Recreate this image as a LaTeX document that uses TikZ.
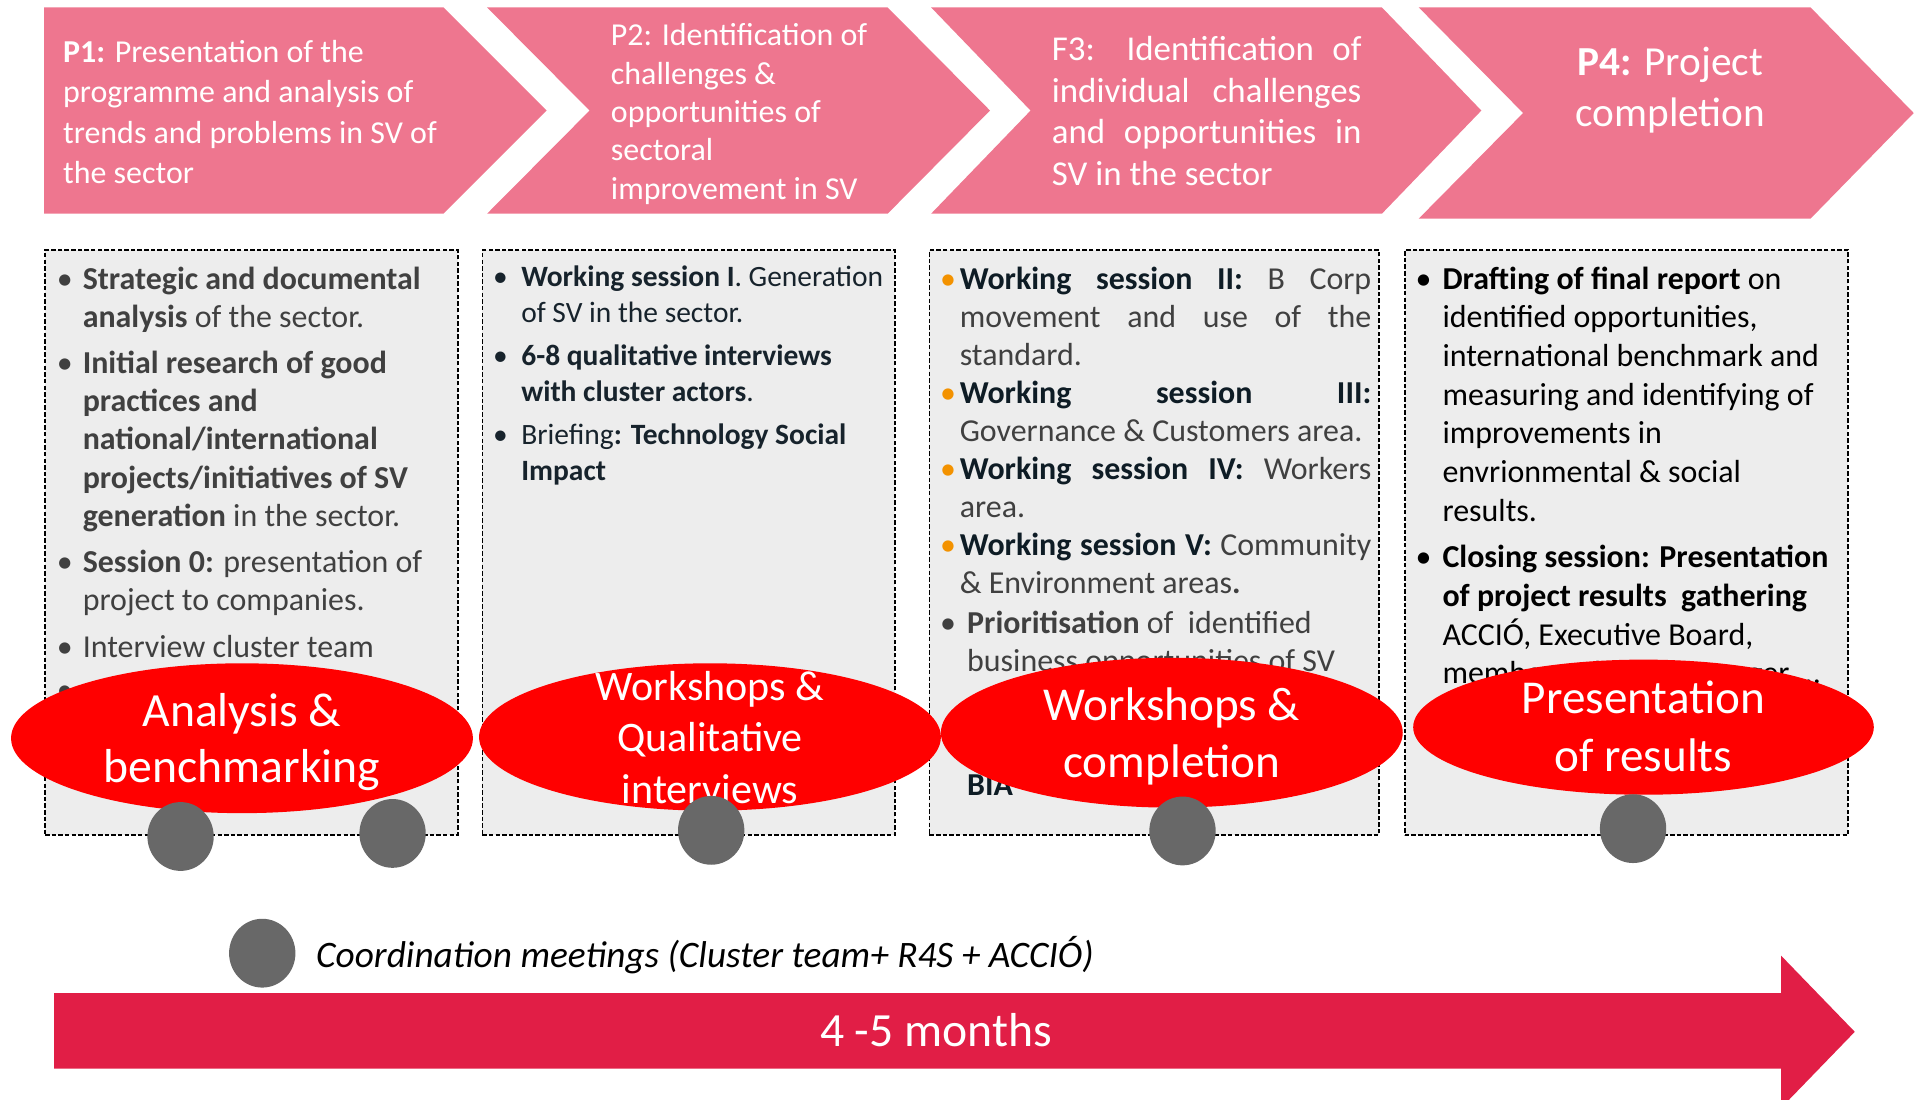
\documentclass[tikz,border=0pt]{standalone}
\usepackage{fontspec}
\setmainfont{Carlito}
\usetikzlibrary{shapes.geometric}
\definecolor{chev}{HTML}{EE768F}
\definecolor{boxfill}{HTML}{EDEDED}
\definecolor{redell}{HTML}{FF0000}
\definecolor{dotgray}{HTML}{686868}
\definecolor{crimson}{HTML}{E11E46}
\definecolor{orangeb}{HTML}{F39200}
\definecolor{txgray}{HTML}{404040}
\definecolor{txdark}{HTML}{0E1C25}
\definecolor{txnavy}{HTML}{17232C}
\newcommand\bitem[2]{\makebox[#1][l]{\textbullet}#2}
\newcommand\citem[2]{\hspace*{#1}#2}
\newcommand\oitem[2]{\makebox[#1][l]{\textcolor{orangeb}{\textbullet}}#2}
\newcommand\jline[2]{\makebox[#1][s]{#2}}
\tikzset{
  chevtext/.style={text=white, inner sep=0, anchor=north west, align=left, font=\fontsize{13}{16.3}\selectfont},
  boxst/.style={draw=black, dash pattern=on 1.8pt off 0.9pt, line width=0.7pt, fill=boxfill, inner sep=0, anchor=north west},
  boxtext/.style={inner sep=0, anchor=north west, align=left},
  bigell/.style={ellipse, fill=redell, inner sep=0, minimum width=188pt, minimum height=61pt},
  elltext/.style={text=white, inner sep=0, align=center},
  dot/.style={ellipse, fill=dotgray, inner sep=0, minimum width=27pt, minimum height=28pt},
}
\begin{document}
\begin{tikzpicture}[x=0.5pt,y=-0.5pt]
\useasboundingbox (0,0) rectangle (1568,895);

% top chevrons
\fill[chev] (36,6) -- (361,6) -- (445,90) -- (361,174) -- (36,174) -- cycle;
\fill[chev] (396.5,6) -- (722.6,6) -- (806,90) -- (722.6,174) -- (396.5,174) -- (480,90) -- cycle;
\fill[chev] (758,6) -- (1125,6) -- (1206,90) -- (1125,174) -- (758,174) -- (839,90) -- cycle;
\fill[chev] (1155,6) -- (1474,6) -- (1558,92) -- (1474,178) -- (1155,178) -- (1240,92) -- cycle;

\node[chevtext] (p1) at (51,28) {\strut\textbf{P1:} Presentation of the\\programme and analysis of\\trends and problems in SV of\\the sector};
\node[chevtext, font=\fontsize{13}{15.6}\selectfont] (p2) at (497,15) {\strut P2: Identification of\\challenges \&\\opportunities of\\sectoral\\improvement in SV};
\node[chevtext, font=\fontsize{14.2}{17}\selectfont] (p3) at (856,25) {\strut\jline{126pt}{F3: Identification of}\\\jline{126pt}{individual challenges}\\\jline{126pt}{and opportunities in}\\SV in the sector};
\node[chevtext, anchor=north, align=center, font=\fontsize{16.8}{20.5}\selectfont] (p4) at (1360,32.5) {\strut\textbf{P4:} Project\\completion};

% boxes
\node[boxst, minimum width=168pt, minimum height=238pt] (b1) at (36,203) {};
\node[boxst, minimum width=168pt, minimum height=238pt] (b2) at (392,203) {};
\node[boxst, minimum width=183pt, minimum height=238pt] (b3) at (756,203) {};
\node[boxst, minimum width=180.5pt, minimum height=238pt] (b4) at (1143,203) {};

\node[boxtext, text=txgray, font=\fontsize{13}{15.5}\selectfont] (t1) at (46,213.2) {\strut\bitem{10.5pt}{\textbf{Strategic and documental}}\\
\citem{10.5pt}{\textbf{analysis} of the sector.}\\[3.5pt]
\bitem{10.5pt}{\textbf{Initial research of good}}\\
\citem{10.5pt}{\textbf{practices and}}\\
\citem{10.5pt}{\textbf{national/international}}\\
\citem{10.5pt}{\textbf{projects/initiatives of SV}}\\
\citem{10.5pt}{\textbf{generation} in the sector.}\\[3.5pt]
\bitem{10.5pt}{\textbf{Session 0:} presentation of}\\
\citem{10.5pt}{project to companies.}\\[3.5pt]
\bitem{10.5pt}{Interview cluster team}\\[2pt]
\textbullet};

\node[boxtext, text=txnavy, font=\fontsize{12}{14.5}\selectfont] (t2) at (401,212.6) {\strut\bitem{11.5pt}{\textbf{Working session I}. Generation}\\
\citem{11.5pt}{of SV in the sector.}\\[3.2pt]
\bitem{11.5pt}{\textbf{6-8 qualitative interviews}}\\
\citem{11.5pt}{\textbf{with cluster actors}.}\\[3.2pt]
\bitem{11.5pt}{Briefing\textbf{: Technology Social}}\\
\citem{11.5pt}{\textbf{Impact}}};

\node[boxtext, text=txgray, font=\fontsize{13}{15.5}\selectfont] (t3) at (765,213.4) {\strut\oitem{8pt}{\jline{167.5pt}{\textbf{\color{txdark}Working session II:} B Corp}}\\
\citem{8pt}{\jline{167.5pt}{movement and use of the}}\\
\citem{8pt}{standard.}\\
\oitem{8pt}{\jline{167.5pt}{\textbf{\color{txdark}Working session III:}}}\\
\citem{8pt}{Governance \& Customers area.}\\
\oitem{8pt}{\jline{167.5pt}{\textbf{\color{txdark}Working session IV:} Workers}}\\
\citem{8pt}{area.}\\
\oitem{8pt}{\jline{167.5pt}{\textbf{\color{txdark}Working session V:} Community}}\\
\citem{8pt}{\& Environment areas\textbf{.}}\\[0.6pt]
\bitem{11pt}{\textbf{Prioritisation} of\ \ identified}\\
\citem{11pt}{business opportunities of SV}};
\node[inner sep=0, anchor=base west, text=txdark, font=\fontsize{13}{15.5}\selectfont] (t3b) at (765,609) {\textbullet};
\node[inner sep=0, anchor=base west, text=txdark, font=\fontsize{13}{15.5}\selectfont] (t3c) at (787,648) {\textbf{BIA}};

\node[boxtext, text=black, font=\fontsize{13}{15.75}\selectfont] (t4) at (1152,213) {\strut\bitem{11pt}{\textbf{Drafting of final report} on}\\
\citem{11pt}{identified opportunities,}\\
\citem{11pt}{international benchmark and}\\
\citem{11pt}{measuring and identifying of}\\
\citem{11pt}{improvements in}\\
\citem{11pt}{envrionmental \& social}\\
\citem{11pt}{results.}\\[3.1pt]
\bitem{11pt}{\textbf{Closing session: Presentation}}\\
\citem{11pt}{\textbf{of project results\ \ gathering}}\\
\citem{11pt}{ACCIÓ, Executive Board,}\\
\citem{11pt}{members, cluster manager ...}};

% red ellipses
\node[bigell] (e1) at (197,601) {};
\node[bigell, minimum height=60pt] (e2) at (578,600) {};
\node[bigell] (e3) at (954,596.5) {};
\node[bigell, minimum width=187.5pt, minimum height=55pt] (e4) at (1338,592) {};

\node[elltext, font=\fontsize{19.4}{23}\selectfont] (e1t) at (197,605) {\strut Analysis \&\\benchmarking\strut};
\node[elltext, font=\fontsize{17.1}{21}\selectfont] (e2t) at (578,603.5) {\strut Workshops \&\\Qualitative\\interviews\strut};
\node[elltext, font=\fontsize{19.2}{23}\selectfont] (e3t) at (954,600.5) {\strut Workshops \&\\completion\strut};
\node[elltext, font=\fontsize{19.2}{23.5}\selectfont] (e4t) at (1338,595) {\strut Presentation\\of results\strut};

% gray dots
\node[dot] (d1) at (147,681) {};
\node[dot] (d2) at (319.6,678.5) {};
\node[dot] (d3) at (579,676) {};
\node[dot] (d4) at (962.7,676.5) {};
\node[dot] (d5) at (1329.5,674.6) {};

% legend
\node[dot] (dl) at (213.5,776) {};
\node[inner sep=0, anchor=base west, font=\fontsize{15.2}{18}\selectfont\itshape] (leg) at (257,787.5) {Coordination meetings (Cluster team+ R4S + ACCIÓ)};

% time arrow
\fill[crimson] (44,808.6) -- (1450,808.6) -- (1450,778) -- (1510,840) -- (1450,902) -- (1450,870) -- (44,870) -- cycle;
\node[inner sep=0, anchor=base, text=white, font=\fontsize{19.4}{23}\selectfont] (months) at (762,852) {4 -5 months};
\end{tikzpicture}
\end{document}
